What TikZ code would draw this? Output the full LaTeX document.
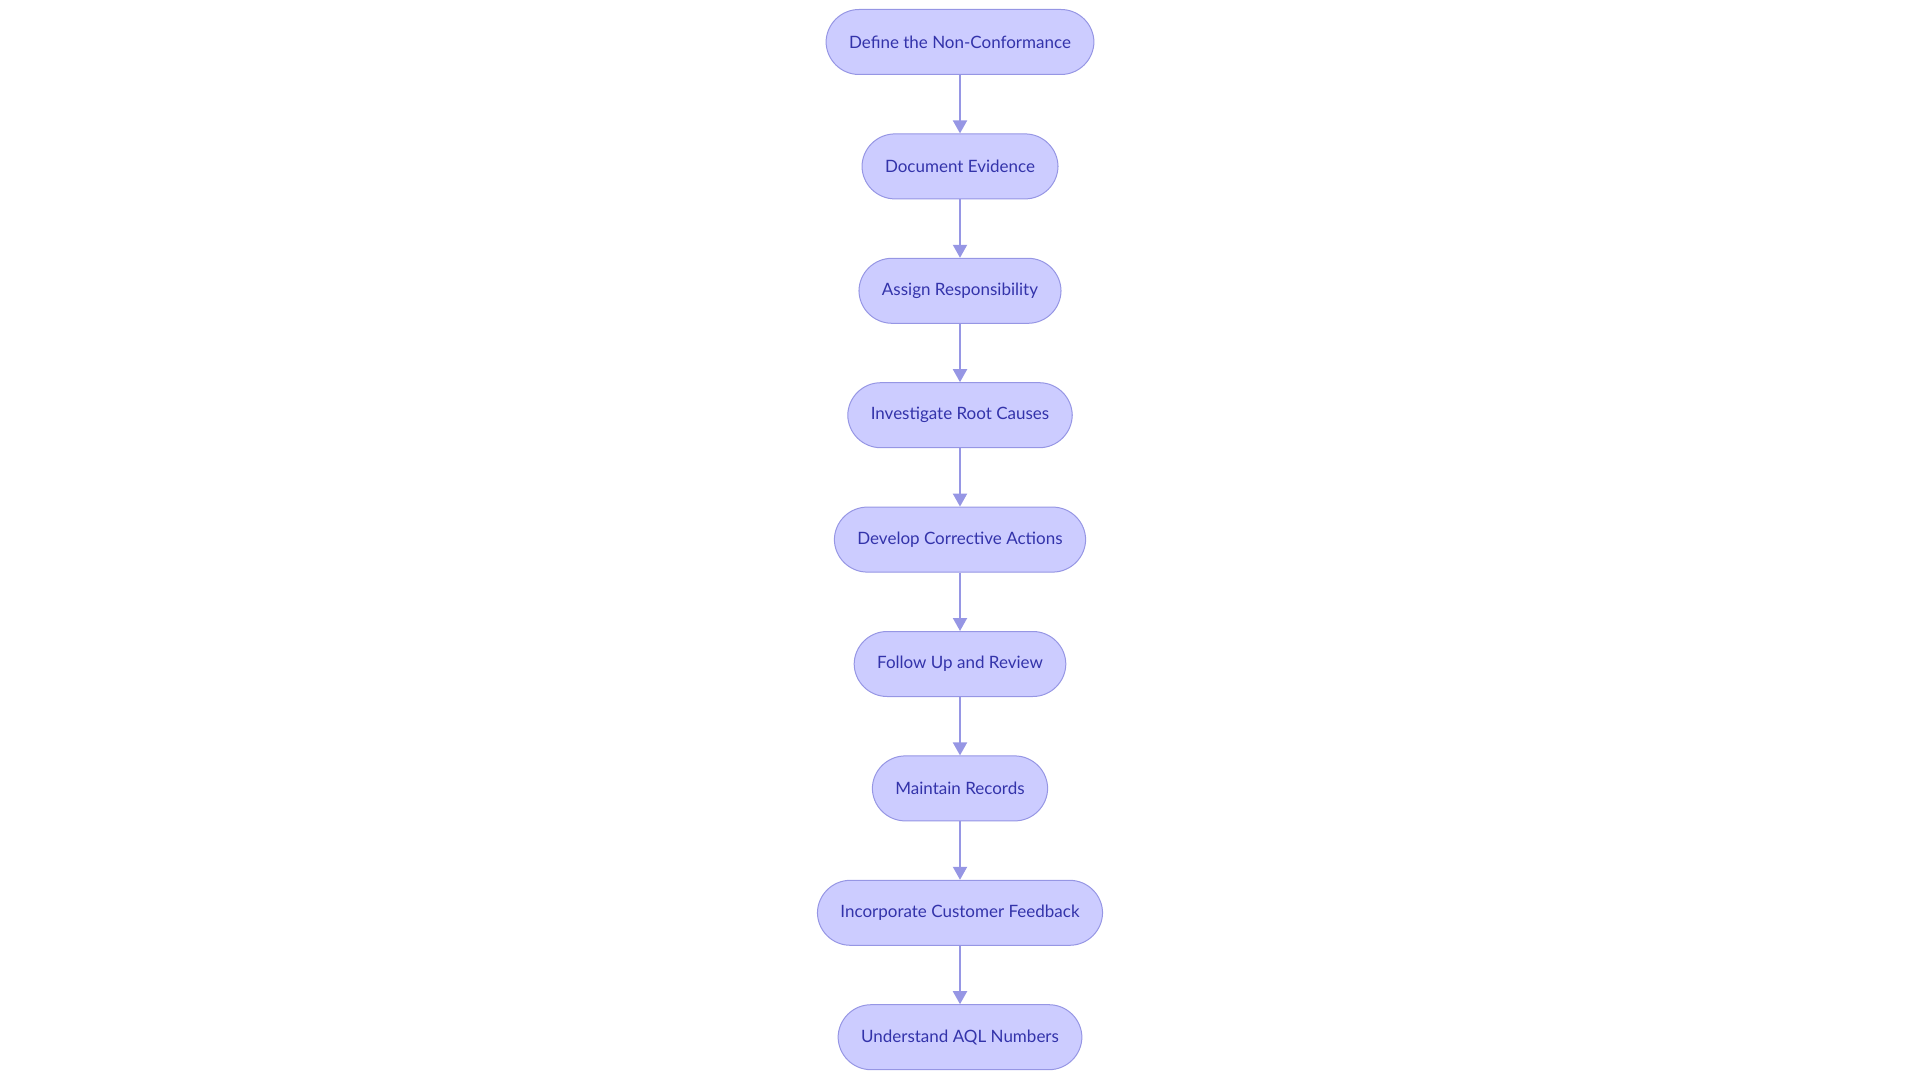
\documentclass[tikz,border=0pt]{standalone}
\usepackage{fontspec}
\setmainfont{Lato}
\usetikzlibrary{positioning,arrows.meta}
\definecolor{boxfill}{RGB}{204,204,255}
\definecolor{boxline}{RGB}{150,150,228}
\definecolor{boxtext}{RGB}{51,51,170}
\begin{document}
\begin{tikzpicture}
[box/.style ={draw=boxline, fill=boxfill, text=boxtext, line width=1pt, rounded corners=33pt,
  minimum height=65pt, inner xsep=23pt, font=\fontsize{17}{20}\selectfont},
 arr/.style ={draw=boxline, line width=2pt, -{Triangle[length=13pt,width=14pt]}},
 node distance=58.4pt]
\useasboundingbox (0,0) rectangle (1920pt,-1083pt);
\node[box] (define) at (960pt,-42pt) {Define the Non-Conformance};
\node[box, below=of define] (doc) {Document Evidence};
\node[box, below=of doc] (assign) {Assign Responsibility};
\node[box, below=of assign] (invest) {Investigate Root Causes};
\node[box, below=of invest] (develop) {Develop Corrective Actions};
\node[box, below=of develop] (follow) {Follow Up and Review};
\node[box, below=of follow] (maintain) {Maintain Records};
\node[box, below=of maintain] (incorp) {Incorporate Customer Feedback};
\node[box, below=of incorp] (aql) {Understand AQL Numbers};
\foreach \a/\b in {define/doc, doc/assign, assign/invest, invest/develop, develop/follow,
  follow/maintain, maintain/incorp, incorp/aql}
  \draw[arr] (\a) -- (\b);
\end{tikzpicture}
\end{document}
